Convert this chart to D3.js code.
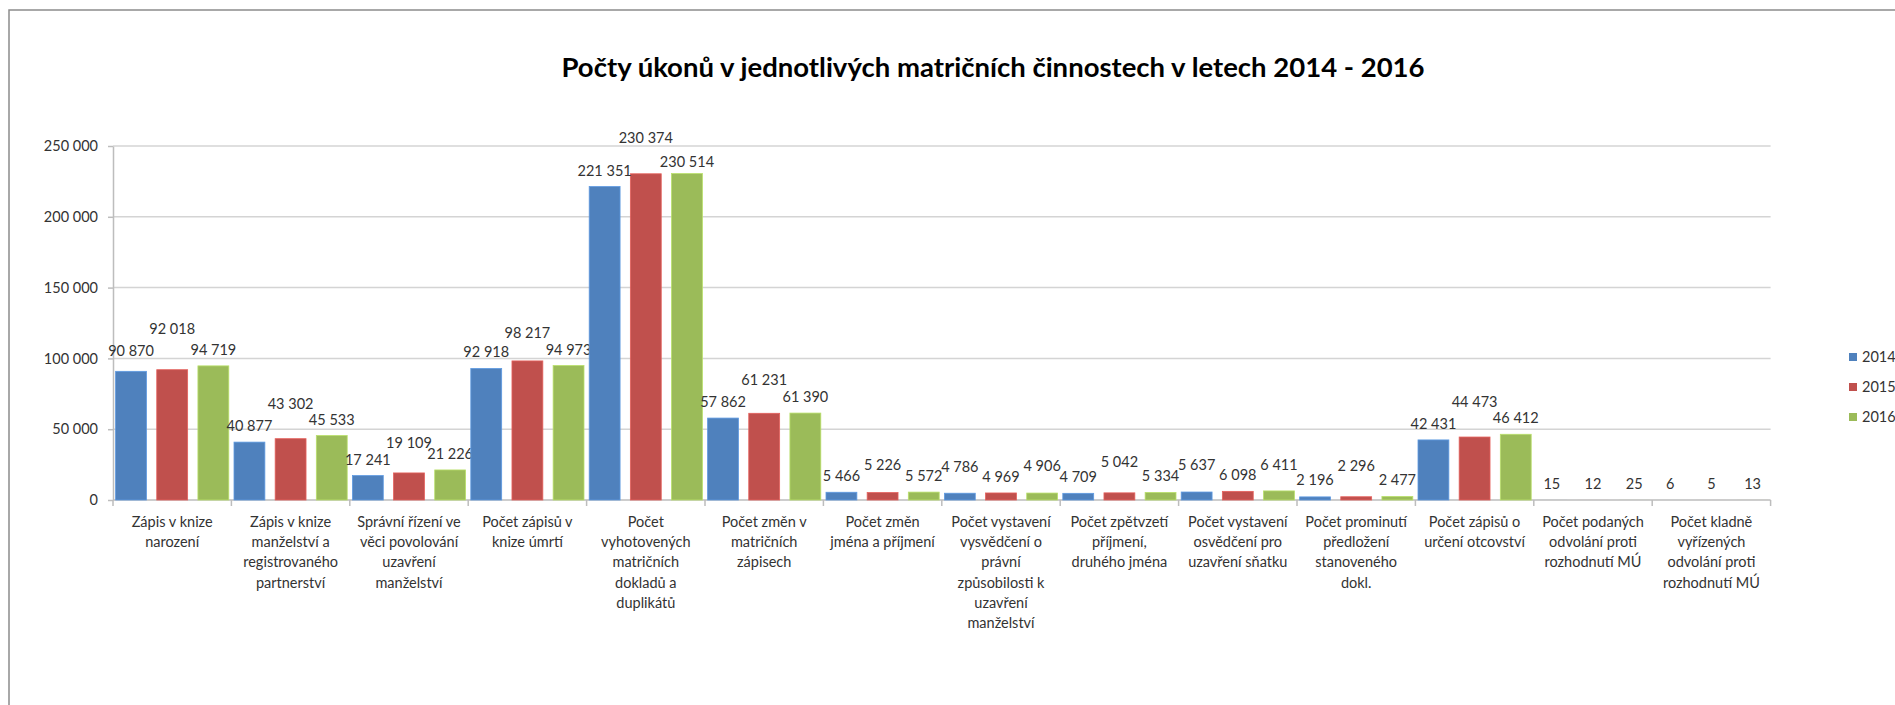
<!DOCTYPE html>
<html>
<head>
<meta charset="utf-8">
<script src="https://cdn.jsdelivr.net/npm/d3@7/dist/d3.min.js"></script>
<style>
  body { margin: 0; background: #fff; }
  text { font-family: Lato, "Open Sans", sans-serif; }
</style>
</head>
<body>
<div id="chart"></div>
<script>
const width = 1895;
const height = 705;

// Category names, line breaks as in the original chart
const categories = [
  "Zápis v knize\nnarození",
  "Zápis v knize\nmanželství a\nregistrovaného\npartnerství",
  "Správní řízení ve\nvěci povolování\nuzavření\nmanželství",
  "Počet zápisů v\nknize úmrtí",
  "Počet\nvyhotovených\nmatričních\ndokladů a\nduplikátů",
  "Počet změn v\nmatričních\nzápisech",
  "Počet změn\njména a příjmení",
  "Počet vystavení\nvysvědčení o\nprávní\nzpůsobilosti k\nuzavření\nmanželství",
  "Počet zpětvzetí\npříjmení,\ndruhého jména",
  "Počet vystavení\nosvědčení pro\nuzavření sňatku",
  "Počet prominutí\npředložení\nstanoveného\ndokl.",
  "Počet zápisů o\nurčení otcovství",
  "Počet podaných\nodvolání proti\nrozhodnutí MÚ",
  "Počet kladně\nvyřízených\nodvolání proti\nrozhodnutí MÚ"
];

const years = ["2014", "2015", "2016"];
const values2014 = [90870, 40877, 17241, 92918, 221351, 57862, 5466, 4786, 4709, 5637, 2196, 42431, 15, 6];
const values2015 = [92018, 43302, 19109, 98217, 230374, 61231, 5226, 4969, 5042, 6098, 2296, 44473, 12, 5];
const values2016 = [94719, 45533, 21226, 94973, 230514, 61390, 5572, 4906, 5334, 6411, 2477, 46412, 25, 13];
const yTicks = [0, 50000, 100000, 150000, 200000, 250000];

// Extra lift (px) of hand-moved data labels, as in the original
const lift2014 = [4, 0, 0, 0, 0, 0, 0, 10, 0, 11, 1, 0, 0, 0];
const lift2015 = [25, 19, 14, 12, 20, 17, 12, 0, 15, 0, 15, 19, 0, 0];
const lift2016 = [0, 0, 0, 0, -4, 0, 0, 11, 0, 10, 0, 0, 0, 0];

const colors = ["#4F81BD", "#C0504D", "#9BBB59"];
const seriesValues = [values2014, values2015, values2016];
const seriesLift = [lift2014, lift2015, lift2016];

const plotLeft = 113;
const plotRight = 1770.6;
const plotTop = 146;
const plotBottom = 500;

// Czech style number format: space as thousands separator
const locale = d3.formatLocale({ decimal: ",", thousands: "\u00a0", grouping: [3], currency: ["", " Kč"] });
const fmt = locale.format(",d");

const svg = d3.select('#chart')
  .append('svg')
  .attr('width', width)
  .attr('height', height);

// Chart frame
svg.append('rect')
  .attr('x', 9)
  .attr('y', 10)
  .attr('width', 1950)
  .attr('height', 800)
  .attr('fill', 'none')
  .attr('stroke', '#8c8c8c')
  .attr('stroke-width', 1.5);

// Title
svg.append('text')
  .attr('x', 993)
  .attr('y', 77)
  .attr('text-anchor', 'middle')
  .style('font-size', '27.5px')
  .style('font-weight', 'bold')
  .style('fill', '#000')
  .text('Počty úkonů v jednotlivých matričních činnostech v letech 2014 - 2016');

// Scales
const x0 = d3.scaleBand()
  .domain(d3.range(categories.length))
  .range([plotLeft, plotRight]);

const x1 = d3.scaleBand()
  .domain(years)
  .range([2.6, x0.bandwidth() - 2.6])
  .paddingInner(0.25);

const y = d3.scaleLinear()
  .domain([0, 250000])
  .range([plotBottom, plotTop]);

// Gridlines
svg.append('g')
  .selectAll('line')
  .data(yTicks.filter(d => d > 0))
  .enter()
  .append('line')
  .attr('x1', plotLeft)
  .attr('x2', plotRight)
  .attr('y1', d => y(d))
  .attr('y2', d => y(d))
  .attr('stroke', '#d4d4d4')
  .attr('stroke-width', 1.5);

// Y axis
const yAxis = svg.append('g')
  .attr('transform', `translate(${plotLeft},0)`)
  .call(d3.axisLeft(y).tickValues(yTicks).tickFormat(fmt).tickSize(5).tickSizeOuter(0).tickPadding(10));
yAxis.select('.domain').attr('stroke', '#bdbdbd').attr('stroke-width', 1.5);
yAxis.selectAll('.tick line').attr('stroke', '#bdbdbd').attr('stroke-width', 1.5);
yAxis.selectAll('.tick text')
  .style('font-family', 'Lato, sans-serif')
  .style('font-size', '14.5px')
  .style('fill', '#333');

// X axis line and category boundary ticks
svg.append('line')
  .attr('x1', plotLeft)
  .attr('x2', plotRight)
  .attr('y1', plotBottom)
  .attr('y2', plotBottom)
  .attr('stroke', '#bdbdbd')
  .attr('stroke-width', 1.5);

const boundaries = d3.range(categories.length + 1).map(i => i < categories.length ? x0(i) : x0.range()[1]);
svg.append('g')
  .selectAll('line')
  .data(boundaries)
  .enter()
  .append('line')
  .attr('x1', d => d)
  .attr('x2', d => d)
  .attr('y1', plotBottom)
  .attr('y2', plotBottom + 6)
  .attr('stroke', '#bdbdbd')
  .attr('stroke-width', 1.5);

// Category labels
const catLabels = svg.append('g')
  .selectAll('text')
  .data(categories)
  .enter()
  .append('text')
  .attr('text-anchor', 'middle')
  .style('font-size', '14.5px')
  .style('fill', '#333');

catLabels.each(function (d, i) {
  const t = d3.select(this);
  d.split('\n').forEach(function (line, j) {
    t.append('tspan')
      .attr('x', x0(i) + x0.bandwidth() / 2)
      .attr('y', 527 + j * 20.2)
      .text(line);
  });
});

// Bars and labels
const groups = svg.append('g')
  .selectAll('g')
  .data(categories)
  .enter()
  .append('g')
  .attr('transform', (d, i) => `translate(${x0(i)},0)`);

groups.each(function (d, i) {
  const g = d3.select(this);
  const rows = years.map((yr, s) => ({ year: yr, s: s, value: seriesValues[s][i], lift: seriesLift[s][i] }));

  g.selectAll('rect')
    .data(rows)
    .enter()
    .append('rect')
    .attr('x', r => x1(r.year))
    .attr('y', r => y(r.value))
    .attr('width', x1.bandwidth())
    .attr('height', r => plotBottom - y(r.value))
    .attr('fill', r => colors[r.s])
    .attr('stroke', r => plotBottom - y(r.value) > 1 ? d3.color(colors[r.s]).brighter(0.5) : 'none')
    .attr('stroke-width', 0.8);

  g.selectAll('text')
    .data(rows)
    .enter()
    .append('text')
    .attr('x', r => x1(r.year) + x1.bandwidth() / 2)
    .attr('y', r => y(r.value) - 11 - r.lift)
    .attr('text-anchor', 'middle')
    .style('font-size', '14.5px')
    .style('fill', '#333')
    .text(r => fmt(r.value));
});

// Legend
const legend = svg.append('g')
  .selectAll('g')
  .data(years)
  .enter()
  .append('g')
  .attr('transform', (d, i) => `translate(1849,${357 + i * 30})`);

legend.append('rect')
  .attr('x', 0)
  .attr('y', -4)
  .attr('width', 8)
  .attr('height', 8)
  .attr('fill', (d, i) => colors[i]);

legend.append('text')
  .attr('x', 13)
  .attr('y', 5)
  .style('font-size', '14.5px')
  .style('fill', '#333')
  .text(d => d);
</script>
</body>
</html>
